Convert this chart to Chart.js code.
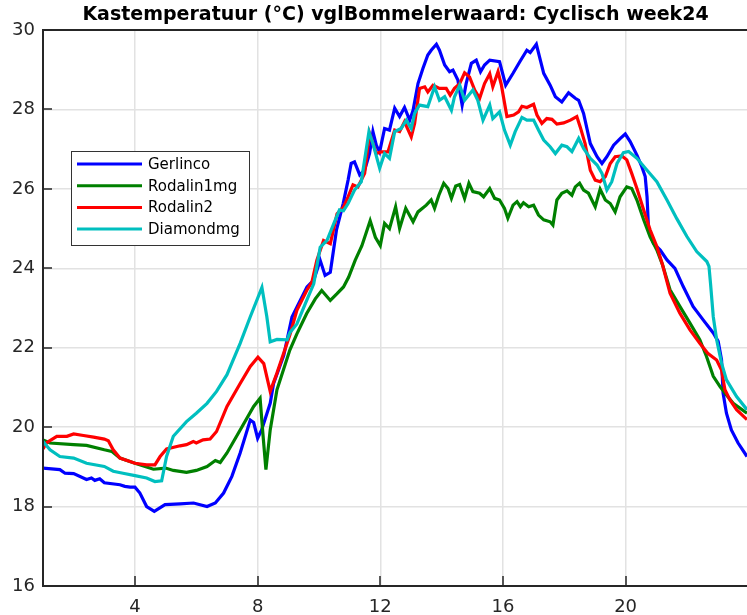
<!DOCTYPE html>
<html><head><meta charset="utf-8">
<script src="https://cdn.jsdelivr.net/npm/chart.js@4"></script>
<style>html,body{margin:0;padding:0;background:#fff;overflow:hidden}canvas{display:block}</style>
</head><body>
<canvas id="c" width="747" height="615"></canvas>
<script>
const titleText = 'Kastemperatuur (°C) vglBommelerwaard: Cyclisch week24';
const seriesNames = ['Gerlinco', 'Rodalin1mg', 'Rodalin2', 'Diamondmg'];
const seriesColors = ['#0000ff', '#008000', '#ff0000', '#00bfbf'];
const xTicks = [4, 8, 12, 16, 20];
const xTickLabels = ['4', '8', '12', '16', '20'];
const yTicks = [16, 18, 20, 22, 24, 26, 28, 30];
const yTickLabels = ['16', '18', '20', '22', '24', '26', '28', '30'];

// [hour, temperature °C]
const gerlinco = [[1.00,18.97],[1.55,18.93],[1.72,18.84],[2.00,18.83],[2.42,18.68],[2.58,18.72],[2.69,18.66],[2.85,18.70],[3.00,18.60],[3.51,18.55],[3.67,18.51],[3.84,18.49],[4.00,18.49],[4.16,18.34],[4.38,18.00],[4.63,17.88],[4.98,18.05],[5.47,18.07],[5.91,18.09],[6.35,18.00],[6.62,18.09],[6.89,18.34],[7.16,18.76],[7.43,19.35],[7.76,20.18],[7.87,20.12],[8.00,19.72],[8.13,19.93],[8.41,20.60],[8.52,21.10],[8.85,21.80],[9.12,22.77],[9.28,23.02],[9.61,23.53],[9.83,23.70],[10.04,24.20],[10.20,23.82],[10.37,23.90],[10.57,24.96],[10.79,25.63],[10.95,26.22],[11.05,26.64],[11.16,26.68],[11.33,26.35],[11.49,26.47],[11.65,26.89],[11.76,27.44],[11.87,27.10],[11.98,26.93],[12.14,27.52],[12.30,27.48],[12.47,28.03],[12.63,27.82],[12.79,28.05],[12.96,27.73],[13.07,27.98],[13.23,28.65],[13.39,29.03],[13.55,29.37],[13.66,29.49],[13.83,29.64],[13.93,29.49],[14.10,29.12],[14.26,28.95],[14.37,28.99],[14.53,28.74],[14.67,28.11],[14.80,28.65],[14.97,29.16],[15.13,29.24],[15.27,28.95],[15.40,29.12],[15.57,29.24],[15.89,29.20],[16.09,28.61],[16.33,28.91],[16.55,29.20],[16.78,29.49],[16.89,29.43],[17.09,29.64],[17.22,29.24],[17.33,28.91],[17.54,28.61],[17.71,28.32],[17.92,28.19],[18.14,28.42],[18.36,28.28],[18.47,28.23],[18.63,27.90],[18.85,27.14],[19.07,26.81],[19.23,26.64],[19.39,26.81],[19.61,27.10],[19.83,27.27],[19.99,27.38],[20.15,27.19],[20.37,26.85],[20.53,26.56],[20.64,26.31],[20.70,25.80],[20.75,24.97],[20.91,24.63],[21.13,24.46],[21.35,24.21],[21.61,24.00],[21.88,23.54],[22.20,23.04],[22.53,22.70],[22.86,22.37],[23.02,22.16],[23.13,21.69],[23.18,20.86],[23.29,20.35],[23.45,19.93],[23.67,19.60],[23.96,19.26]];

const rodalin1mg = [[1.00,19.68],[1.23,19.60],[2.00,19.56],[2.42,19.54],[3.00,19.43],[3.24,19.39],[3.51,19.22],[4.00,19.09],[4.60,18.94],[5.00,18.97],[5.25,18.91],[5.68,18.86],[6.00,18.91],[6.35,19.01],[6.62,19.16],[6.78,19.11],[7.00,19.35],[7.43,19.93],[7.87,20.52],[8.08,20.73],[8.17,19.85],[8.27,18.93],[8.41,19.93],[8.63,20.94],[9.05,21.94],[9.28,22.35],[9.60,22.86],[9.88,23.23],[10.09,23.44],[10.37,23.19],[10.59,23.36],[10.80,23.53],[10.97,23.78],[11.18,24.20],[11.40,24.57],[11.67,25.20],[11.84,24.78],[12.00,24.57],[12.14,25.13],[12.30,25.00],[12.50,25.55],[12.63,25.00],[12.83,25.51],[13.07,25.17],[13.23,25.42],[13.50,25.59],[13.66,25.72],[13.77,25.51],[13.91,25.84],[14.07,26.14],[14.21,26.01],[14.32,25.76],[14.46,26.07],[14.59,26.11],[14.75,25.76],[14.89,26.14],[15.02,25.93],[15.24,25.89],[15.37,25.80],[15.57,26.01],[15.73,25.76],[15.89,25.72],[16.05,25.51],[16.16,25.26],[16.33,25.59],[16.46,25.68],[16.57,25.55],[16.67,25.65],[16.84,25.55],[17.00,25.59],[17.16,25.34],[17.33,25.22],[17.54,25.17],[17.63,25.09],[17.76,25.72],[17.92,25.89],[18.09,25.95],[18.25,25.84],[18.36,26.05],[18.50,26.14],[18.63,25.97],[18.79,25.89],[19.01,25.55],[19.17,25.99],[19.34,25.72],[19.50,25.63],[19.66,25.42],[19.82,25.80],[20.04,26.05],[20.20,26.01],[20.37,25.72],[20.59,25.22],[20.80,24.79],[21.02,24.46],[21.20,24.10],[21.45,23.46],[21.77,23.04],[22.10,22.62],[22.42,22.20],[22.64,21.78],[22.86,21.28],[23.08,21.02],[23.29,20.81],[23.51,20.60],[23.96,20.35]];

const rodalin2 = [[1.00,19.45],[1.12,19.61],[1.45,19.77],[1.78,19.77],[2.00,19.83],[2.32,19.79],[2.65,19.75],[3.00,19.70],[3.13,19.66],[3.29,19.43],[3.51,19.22],[4.00,19.09],[4.38,19.05],[4.65,19.05],[4.82,19.26],[5.03,19.45],[5.47,19.53],[5.68,19.56],[5.90,19.64],[6.00,19.60],[6.22,19.68],[6.45,19.70],[6.66,19.89],[7.00,20.52],[7.43,21.10],[7.76,21.53],[8.01,21.76],[8.20,21.60],[8.41,20.90],[8.63,21.36],[9.05,22.32],[9.28,22.94],[9.60,23.44],[9.77,23.65],[9.93,24.20],[10.15,24.70],[10.37,24.62],[10.59,25.37],[10.80,25.54],[10.95,25.80],[11.11,26.10],[11.27,26.05],[11.49,26.39],[11.65,27.40],[11.87,26.89],[12.03,26.93],[12.25,26.93],[12.47,27.48],[12.63,27.44],[12.79,27.69],[13.01,27.31],[13.12,27.65],[13.28,28.53],[13.45,28.57],[13.55,28.44],[13.72,28.61],[13.93,28.53],[14.15,28.53],[14.28,28.36],[14.42,28.53],[14.59,28.65],[14.75,28.92],[14.91,28.82],[15.08,28.49],[15.24,28.28],[15.40,28.65],[15.57,28.90],[15.67,28.57],[15.84,28.95],[15.95,28.61],[16.13,27.82],[16.35,27.86],[16.51,27.94],[16.62,28.08],[16.78,28.05],[17.00,28.13],[17.11,27.86],[17.27,27.65],[17.43,27.77],[17.60,27.75],[17.76,27.63],[17.98,27.66],[18.20,27.73],[18.41,27.82],[18.52,27.56],[18.68,27.14],[18.85,26.47],[19.01,26.22],[19.17,26.18],[19.34,26.31],[19.50,26.64],[19.66,26.81],[19.88,26.83],[20.04,26.73],[20.20,26.39],[20.37,26.01],[20.59,25.47],[20.80,24.97],[21.02,24.55],[21.20,24.10],[21.45,23.37],[21.77,22.87],[22.10,22.45],[22.42,22.11],[22.68,21.86],[22.97,21.69],[23.13,21.44],[23.24,20.94],[23.40,20.69],[23.62,20.44],[23.96,20.19]];

const diamondmg = [[1.00,19.64],[1.23,19.43],[1.55,19.26],[2.00,19.22],[2.42,19.09],[3.00,19.01],[3.29,18.89],[3.61,18.84],[4.00,18.78],[4.38,18.72],[4.65,18.63],[4.87,18.65],[5.03,19.26],[5.25,19.77],[5.68,20.14],[6.00,20.35],[6.35,20.60],[6.66,20.90],[7.00,21.32],[7.43,22.11],[7.76,22.78],[8.14,23.52],[8.30,22.78],[8.41,22.15],[8.63,22.21],[8.96,22.20],[9.05,22.38],[9.28,22.60],[9.60,23.19],[9.83,23.61],[10.04,24.53],[10.26,24.70],[10.48,25.12],[10.67,25.47],[10.80,25.45],[10.95,25.63],[11.16,25.97],[11.38,26.18],[11.63,27.44],[11.76,27.14],[11.98,26.52],[12.14,26.89],[12.30,26.77],[12.47,27.44],[12.68,27.52],[12.85,27.73],[13.01,27.52],[13.12,27.90],[13.28,28.11],[13.55,28.07],[13.77,28.57],[13.93,28.23],[14.10,28.32],[14.32,27.98],[14.42,28.32],[14.59,28.61],[14.75,28.23],[15.02,28.49],[15.18,28.23],[15.35,27.73],[15.57,28.11],[15.67,27.77],[15.89,27.94],[16.05,27.48],[16.24,27.10],[16.40,27.44],[16.62,27.80],[16.78,27.73],[17.00,27.73],[17.16,27.48],[17.33,27.23],[17.54,27.06],[17.71,26.89],[17.92,27.10],[18.09,27.06],[18.25,26.94],[18.47,27.27],[18.63,27.02],[18.85,26.77],[19.07,26.60],[19.23,26.39],[19.39,25.97],[19.55,26.18],[19.72,26.64],[19.93,26.91],[20.10,26.94],[20.37,26.77],[20.70,26.47],[21.02,26.18],[21.35,25.72],[21.67,25.25],[22.00,24.80],[22.32,24.42],[22.65,24.17],[22.72,24.05],[22.77,23.62],[22.86,22.78],[22.97,22.20],[23.13,21.61],[23.29,21.19],[23.62,20.77],[23.96,20.44]];

const seriesData = [gerlinco, rodalin1mg, rodalin2, diamondmg];
const AXIS = '#262626';
const FONT = '"DejaVu Sans", Verdana, sans-serif';

const framePlugin = {
  id: 'frame',
  afterDatasetsDraw(chart) {
    const ctx = chart.ctx, a = chart.chartArea;
    const xs = chart.scales.x, ys = chart.scales.y;
    ctx.save();
    ctx.strokeStyle = AXIS; ctx.lineWidth = 2;
    ctx.beginPath(); ctx.moveTo(a.left, a.top); ctx.lineTo(a.right, a.top); ctx.stroke();
    ctx.lineWidth = 1.5;
    ctx.beginPath();
    yTicks.forEach(v => { const y = Math.round(ys.getPixelForValue(v)); ctx.moveTo(a.left, y); ctx.lineTo(a.left + 9, y); });
    xTicks.forEach(v => { const x = Math.round(xs.getPixelForValue(v)); ctx.moveTo(x, a.bottom); ctx.lineTo(x, a.bottom - 10); });
    ctx.stroke();
    ctx.restore();
  },
  afterDraw(chart) {
    const ctx = chart.ctx, a = chart.chartArea;
    ctx.save();
    ctx.fillStyle = '#000';
    ctx.font = 'bold 19px ' + FONT;
    ctx.textAlign = 'center'; ctx.textBaseline = 'middle';
    ctx.fillText(titleText, (a.left + 748) / 2, 15);
    const lx = 71, ly = 151, lw = 178, lh = 94;
    ctx.fillStyle = '#fff';
    ctx.fillRect(lx, ly, lw, lh);
    ctx.strokeStyle = '#333'; ctx.lineWidth = 1;
    ctx.strokeRect(lx + 0.5, ly + 0.5, lw, lh);
    ctx.font = '15px ' + FONT;
    ctx.textAlign = 'left'; ctx.textBaseline = 'middle';
    seriesNames.forEach((name, i) => {
      const y = 164 + i * 21.7;
      ctx.strokeStyle = seriesColors[i]; ctx.lineWidth = 3;
      ctx.beginPath(); ctx.moveTo(77, y); ctx.lineTo(142, y); ctx.stroke();
      ctx.fillStyle = '#000';
      ctx.fillText(name, 148, y + 1);
    });
    ctx.restore();
  }
};

new Chart(document.getElementById('c'), {
  type: 'line',
  data: {
    datasets: seriesData.map((d, i) => ({
      label: seriesNames[i],
      data: d.map(p => ({ x: p[0], y: p[1] })),
      borderColor: seriesColors[i],
      backgroundColor: seriesColors[i],
      borderWidth: 3.2,
      pointRadius: 0,
      tension: 0,
      fill: false,
      order: 3 - i
    }))
  },
  options: {
    responsive: false,
    animation: false,
    devicePixelRatio: 1,
    layout: { padding: { top: 30, left: 0, right: 0, bottom: 0 } },
    plugins: { legend: { display: false }, title: { display: false }, tooltip: { enabled: false } },
    scales: {
      x: {
        type: 'linear', min: 1, max: 23.96,
        afterBuildTicks: s => { s.ticks = xTicks.map(v => ({ value: v })); },
        afterFit: s => { s.height = 29; },
        grid: { color: '#e2e2e2', lineWidth: 1.5, drawTicks: false },
        border: { display: true, color: AXIS, width: 2, z: 1 },
        ticks: {
          autoSkip: false, maxRotation: 0, padding: 11, color: AXIS,
          font: { family: FONT, size: 18 },
          callback: (v) => xTickLabels[xTicks.indexOf(v)]
        }
      },
      y: {
        type: 'linear', min: 16, max: 30,
        afterBuildTicks: s => { s.ticks = yTicks.map(v => ({ value: v })); },
        afterFit: s => { s.width = 43; },
        grid: { color: '#e2e2e2', lineWidth: 1.5, drawTicks: false },
        border: { display: true, color: AXIS, width: 2, z: 1 },
        ticks: {
          padding: 8, color: AXIS,
          font: { family: FONT, size: 18 },
          callback: (v) => yTickLabels[yTicks.indexOf(v)]
        }
      }
    }
  },
  plugins: [framePlugin]
});
</script>
</body></html>
